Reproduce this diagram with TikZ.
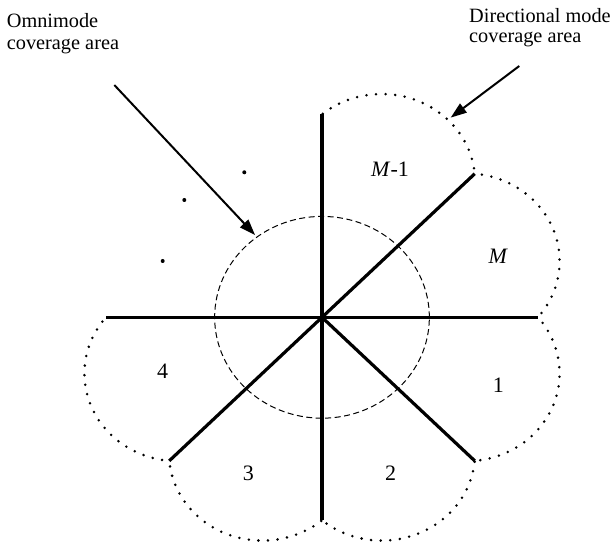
\documentclass[tikz,border=0pt]{standalone}
\usepackage{fontspec}
\setmainfont{Liberation Serif}
\usepackage{tikz}
\usetikzlibrary{arrows.meta,calc}

\begin{document}
\begin{tikzpicture}[
  x=1pt, y=-1pt,
  ray/.style={line width=3.2pt},
  omni/.style={line width=1pt, dash pattern=on 6pt off 3.5pt},
  lobe/.style={line width=2.8pt, line cap=round, dash pattern=on 0pt off 9.6pt, dash phase=4pt},
  pointer/.style={line width=2pt, -{Triangle[length=16pt,width=11pt]}},
  caption/.style={font=\fontsize{20.3}{22.6}\selectfont, align=left, inner sep=0pt, anchor=north west},
  sector/.style={font=\fontsize{22}{24}\selectfont, inner sep=0pt},
  gap/.style={circle, fill, inner sep=0pt, minimum size=4pt}]
\useasboundingbox (0,0) rectangle (611,548);
\begin{scope}[shift={(322,317.3)}, x=216pt, y=203pt]
  \coordinate (o) at (0,0);
  % antenna sector borders
  \foreach \a in {0,45,90,180,225,270,315}
    \coordinate (r\a) at (\a:1);
  \foreach \a in {0,45,90,180,225,270,315}
    \draw[ray] (o) -- (r\a);
  % omnimode range
  \draw[omni] (o) circle[radius=0.497];
  % directional beams
  \foreach \b/\s in {22.5/0,67.5/45,202.5/180,247.5/225,292.5/270,337.5/315}
    \draw[lobe] (r\s) arc[start angle=\b-62.24, end angle=\b+62.24, radius=0.4325];
  \coordinate (omnitip) at (127.4:0.51);
  \coordinate (dirtip) at (58.8:1.15);
\end{scope}
\node[caption] (omnitext) at (6.7,12.8) {Omnimode\\coverage area};
\node[caption, font=\fontsize{20.3}{19.5}\selectfont] (dirtext) at (469,8.6) {Directional mode\\coverage area};
\coordinate (omnitail) at (114.3,85);
\coordinate (dirtail) at (519.3,66);
\draw[pointer] (omnitail) -- (omnitip);
\draw[pointer] (dirtail) -- (dirtip);
\node[sector] (sM1) at (390,169.2) {\textit{M}-1};
\node[sector] (sM) at (498.3,256.7) {\textit{M}};
\node[sector] (s1) at (498.3,385) {1};
\node[sector] (s2) at (390.7,473.3) {2};
\node[sector] (s3) at (248.3,473.3) {3};
\node[sector] (s4) at (162.7,371.7) {4};
\node[gap] (g1) at (244.3,172.3) {};
\node[gap] (g2) at (184.3,200) {};
\node[gap] (g3) at (162.7,261) {};
\end{tikzpicture}
\end{document}
